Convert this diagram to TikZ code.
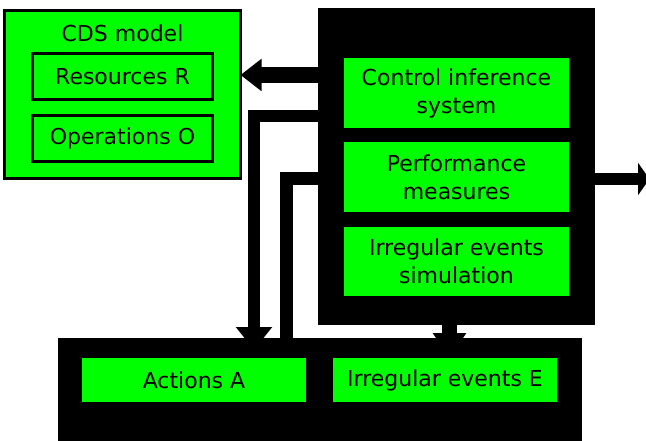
\documentclass[tikz,border=0pt]{standalone}
\usepackage{fontspec}
\setmainfont{DejaVu Sans}
\usetikzlibrary{arrows.meta}
\definecolor{lgreen}{RGB}{0,255,0}
\begin{document}
\begin{tikzpicture}[x=1pt,y=-1pt,
  every node/.style={inner sep=0pt,outer sep=0pt,font=\fontsize{22}{28}\selectfont,align=center},
  blackbox/.style={fill=black,draw=none},
  greenbox/.style={fill=lgreen,draw=none,minimum width=225pt},
  framed/.style={fill=lgreen,draw=black,line width=3pt},
  conn/.style={draw=black,line join=miter},
]
\useasboundingbox[fill=white] (0,0) rectangle (646,441);
\clip (0,0) rectangle (646,441);
% CDS model
\node[framed,minimum width=236pt,minimum height=168pt] (cds) at (122.5,94.5) {};
\node (cdslabel) at (122.5,33) {CDS model};
\node[framed,minimum width=180pt,minimum height=46pt] (res) at (122.5,76.5) {Resources R};
\node[framed,minimum width=180pt,minimum height=46pt] (ops) at (122.5,138.5) {Operations O};
% big system box
\node[blackbox,minimum width=277pt,minimum height=317pt] (big) at (456.5,166.5) {};
\node[greenbox,minimum height=70pt] (cis) at (456.5,93) {Control inference\\system};
\node[greenbox,minimum height=70pt] (pm) at (456.5,177) {Performance\\measures};
\node[greenbox,minimum height=69pt] (ies) at (456.5,261.5) {Irregular events\\simulation};
% bottom box
\node[blackbox,minimum width=524pt,minimum height=110pt] (bottom) at (320,393) {};
\node[greenbox,minimum width=224pt,minimum height=44pt] (act) at (194,380) {Actions A};
\node[greenbox,minimum width=224pt,minimum height=44pt] (ev) at (445,380) {Irregular events E};
% helper coordinates
\coordinate (c1) at (280,75);
\coordinate (c2) at (254,116);
\coordinate (c3) at (286.5,179);
\coordinate (c4) at (449.5,340);
\coordinate (out) at (649.5,179);
% connectors
\draw[conn,line width=16pt,-{Triangle[length=21pt,width=31pt]}] (c1 -| big.west) -- (c1 -| cds.east);
\draw[conn,line width=12pt,-{Triangle[length=23pt,width=35pt]},shorten >=-12pt] (c2 -| big.west) -- (c2) -- (c2 |- bottom.north);
\draw[conn,line width=13pt] (c3 |- bottom.north) -- (c3) -- (c3 -| big.west);
\draw[conn,line width=12pt,-{Triangle[length=11.5pt,width=32pt]}] (c3 -| big.east) -- (out);
\draw[conn,line width=15pt,-{Triangle[length=25pt,width=32pt]}] (c4 |- big.south) -- (c4 |- ev.north);
\end{tikzpicture}
\end{document}
